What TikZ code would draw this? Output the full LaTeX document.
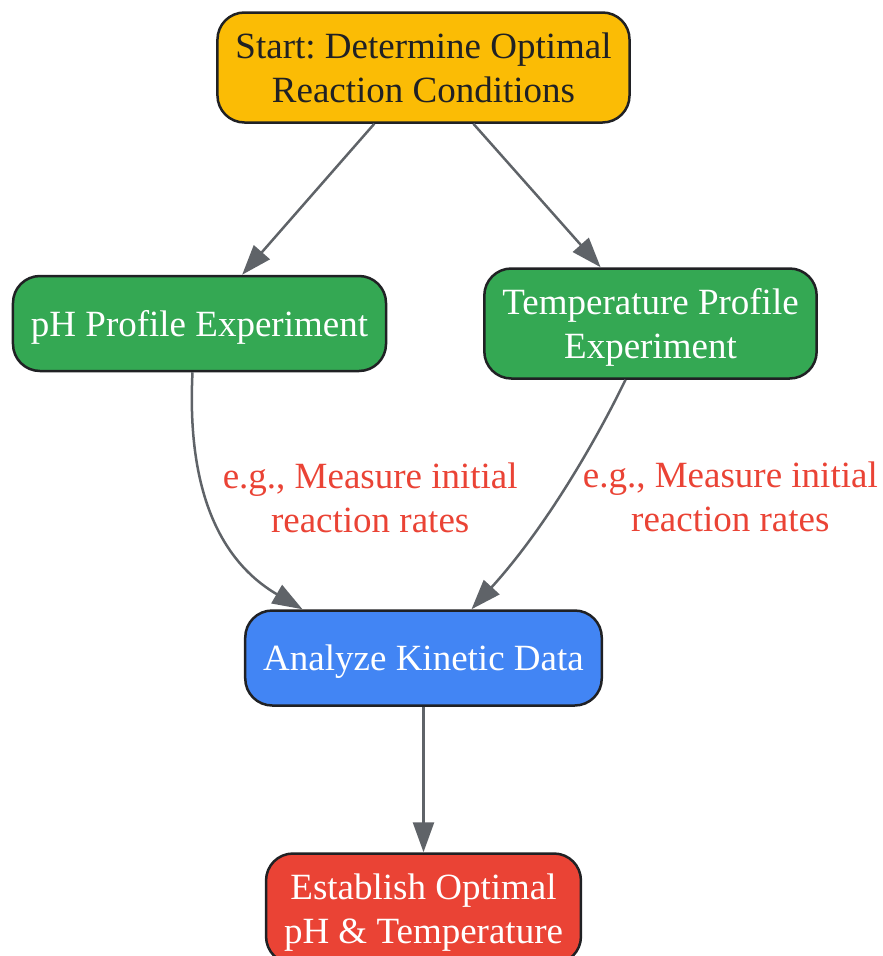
\documentclass[tikz,border=0pt]{standalone}
\usepackage{fontspec}
\setmainfont{Liberation Serif}
\usetikzlibrary{positioning,arrows.meta}
\definecolor{gyellow}{HTML}{FBBC05}
\definecolor{ggreen}{HTML}{34A853}
\definecolor{gblue}{HTML}{4285F4}
\definecolor{gred}{HTML}{EA4335}
\definecolor{edgegray}{HTML}{5F6368}
\definecolor{boxline}{HTML}{202124}
\frenchspacing

\begin{document}
\begin{tikzpicture}[node distance=3cm,on grid,
  box/.style={draw=boxline,line width=2.5pt,rounded corners=27pt,inner xsep=18pt,inner ysep=0pt,
    minimum height=95pt,align=center,text depth=0pt,text=white,font=\fontsize{37}{44}\selectfont},
  tall/.style={minimum height=110pt},
  flow/.style={color=edgegray,line width=2.5pt,-{Triangle[length=30pt,width=21pt]}},
  elabel/.style={text=gred,align=center,inner sep=0pt,font=\fontsize{37}{44}\selectfont}]
   \useasboundingbox (0,0) rectangle (883pt,-956pt);
   \node[box,tall,fill=gyellow,text=boxline] (start) at (423.5pt,-67.5pt) {Start: Determine Optimal\\Reaction Conditions};
   \node[box,fill=ggreen] (ph) [below left=256pt and 224pt of start] {pH Profile Experiment};
   \node[box,tall,fill=ggreen] (temp) [below right=256pt and 227pt of start] {Temperature Profile\\Experiment};
   \node[box,fill=gblue] (analyze) [below=590.5pt of start] {Analyze Kinetic Data};
   \node[box,tall,fill=gred] (establish) [below=250.5pt of analyze] {Establish Optimal\\pH \& Temperature};
    \path[flow]
    (start) edge (ph)
            edge (temp)
    (analyze) edge (establish);
    \draw[flow] ([xshift=-7pt]ph.south) .. controls +(-6pt,-119pt) and +(-82pt,48pt) ..
      node[elabel,anchor=west,xshift=7pt,yshift=20pt] {e.g., Measure initial\\reaction rates} ([xshift=-121pt]analyze.north);
    \draw[flow] ([xshift=-25pt]temp.south) .. controls +(-30pt,-62pt) and +(73pt,80pt) ..
      node[elabel,anchor=west,xshift=17pt,yshift=-9pt] {e.g., Measure initial\\reaction rates} ([xshift=48pt]analyze.north);
\end{tikzpicture}
\end{document}
